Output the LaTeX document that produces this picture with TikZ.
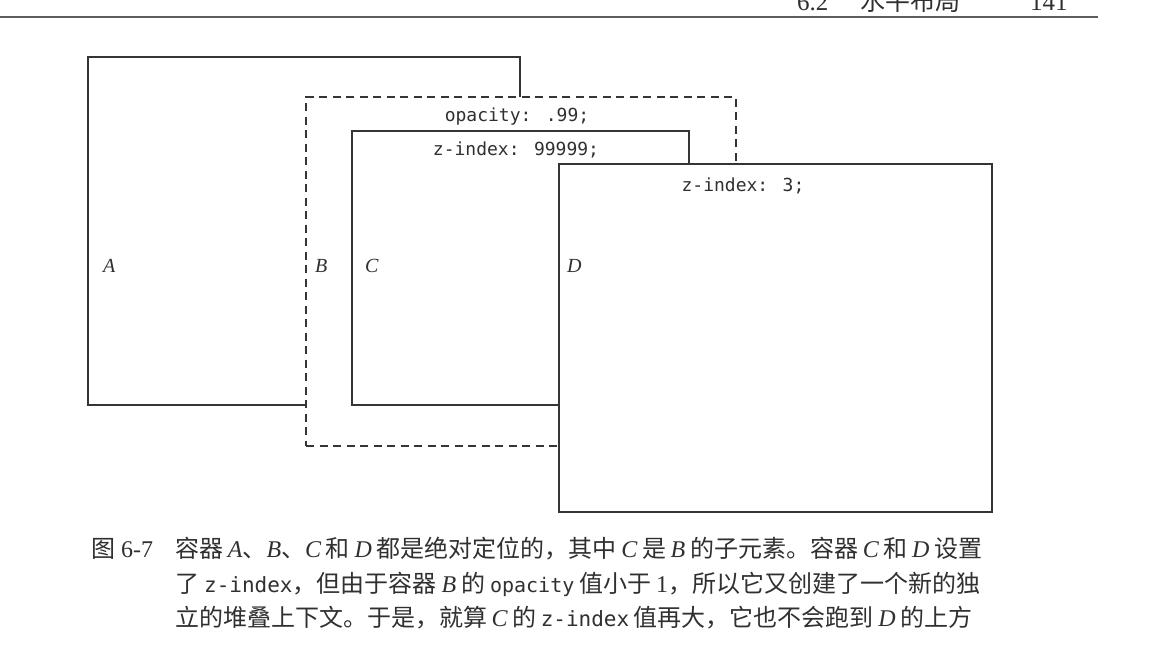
\documentclass[tikz,border=0pt]{standalone}
\usepackage{fontspec}
\setmainfont{Liberation Serif}
\newfontfamily\cjk{Noto Sans CJK SC}
\newfontfamily\codefont{DejaVu Sans Mono}
\XeTeXlinebreaklocale "zh"
\XeTeXlinebreakskip=0pt plus 1.5pt
\definecolor{ink}{HTML}{353535}
\definecolor{txt}{HTML}{303030}
\newcommand\vv[1]{{\rmfamily\itshape #1}}
\newcommand\sk{\hskip 5pt plus 4pt minus 2pt\relax}
\newcommand\cz[1]{{\codefont\fontsize{21}{24}\selectfont #1}}
\newcommand\cop[1]{{\codefont\fontsize{20}{22}\selectfont #1}}
\begin{document}
\begin{tikzpicture}[x=1pt,y=-1pt,
  box/.style={draw=ink, line width=2pt, fill=white, inner sep=0pt, outer sep=0pt, anchor=north west},
  dbox/.style={box, dash pattern=on 8pt off 5.5pt},
  code/.style={text=txt, font=\codefont\fontsize{18}{21}\selectfont, inner sep=0pt, anchor=base},
  lab/.style={text=txt, font=\rmfamily\itshape\fontsize{20}{24}\selectfont, inner sep=0pt, anchor=base west},
  captext/.style={text=txt, font=\cjk\fontsize{24}{28}\selectfont, inner sep=0pt, anchor=base west},
  headtext/.style={text=txt, inner sep=0pt, anchor=base west},
  headline/.style={draw=ink!80, line width=1.5pt}]
\useasboundingbox (0,0) rectangle (1162,664);
\fill[white] (0,0) rectangle (1162,664);

% running head
\coordinate (hl) at (0,17);
\coordinate (hr) at (1098,17);
\draw[headline] (hl) -- (hr);
\node[headtext, font=\rmfamily\fontsize{25}{28}\selectfont] (hsec) at (797,10) {6.2};
\node[headtext, font=\cjk\fontsize{25}{28}\selectfont] (htitle) at (860,10) {水平布局};
\node[headtext, font=\rmfamily\fontsize{25}{28}\selectfont] (hpage) at (1030,10) {141};

% containers
\node[box, minimum width=432pt, minimum height=348pt] (A) at (88,57) {};
\node[dbox, minimum width=430pt, minimum height=349pt] (B) at (306,97) {};
\node[box, minimum width=337pt, minimum height=274pt] (C) at (352,131) {};
\node[box, minimum width=433pt, minimum height=348pt] (D) at (559,164) {};

% texts inside
\node[code] (tB) at (517,121) {opacity: .99;};
\node[code] (tC) at (516,155) {z-index: 99999;};
\node[code] (tD) at (743,191) {z-index: 3;};

\node[lab] (lA) at (103,272) {A};
\node[lab] (lB) at (315,272) {B};
\node[lab] (lC) at (365,272) {C};
\node[lab] (lD) at (567,272) {D};

% caption
\node[captext] (fig) at (91,557) {图\hskip 6pt{\rmfamily 6-7}};
\node[captext] (cap1) at (175,557) {\hbox to 807pt{容器\sk\vv{A}、\vv{B}、\vv{C}\sk 和\sk\vv{D}\sk 都是绝对定位的，其中\sk\vv{C}\sk 是\sk\vv{B}\sk 的子元素。容器\sk\vv{C}\sk 和\sk\vv{D}\sk 设置}};
\node[captext] (cap2) at (175,592) {\hbox to 805pt{了\sk\cz{z-index}，但由于容器\sk\vv{B}\sk 的\sk\cop{opacity}\sk 值小于\sk{\rmfamily 1}，所以它又创建了一个新的独}};
\node[captext] (cap3) at (175,626) {\hbox to 797pt{立的堆叠上下文。于是，就算\sk\vv{C}\sk 的\sk\cz{z-index}\sk 值再大，它也不会跑到\sk\vv{D}\sk 的上方}};
\end{tikzpicture}
\end{document}
